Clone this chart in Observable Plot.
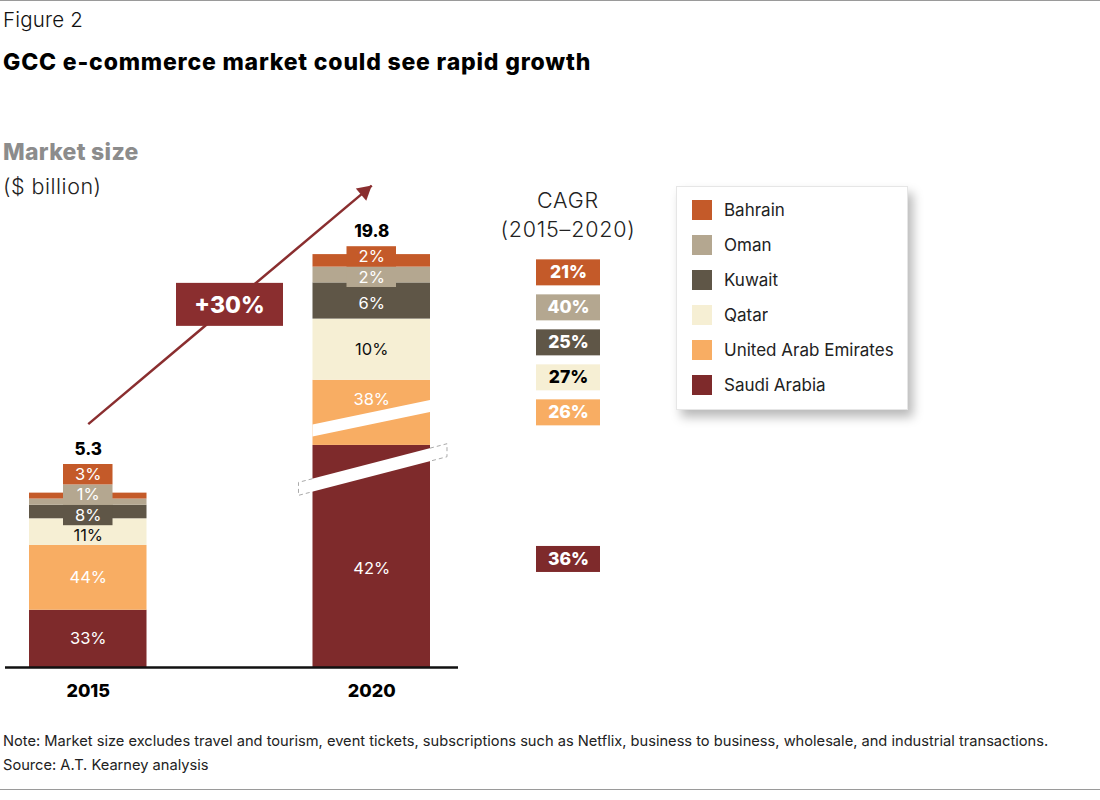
<!DOCTYPE html>
<html>
<head>
<meta charset="utf-8">
<script src="https://cdn.jsdelivr.net/npm/d3@7"></script>
<script src="https://cdn.jsdelivr.net/npm/@observablehq/plot@0.6"></script>
<style>
  body { margin: 0; background: #fff; font-family: Inter, "Noto Sans", sans-serif; color: #111; }
  #chart { position: relative; width: 1100px; height: 800px; overflow: hidden; background: #fff; }
  .abs { position: absolute; white-space: nowrap; }
  .rule { position: absolute; left: 0; width: 1100px; height: 1px; background: #9a9a9a; }
  #fig { left: 3px; top: 7px; font-size: 20.5px; line-height: 26px; color: #111; font-weight: 300; letter-spacing: 0.2px; }
  #title { left: 3px; top: 49px; font-size: 23px; line-height: 26px; font-weight: 800; color: #000; letter-spacing: 0.82px; }
  #msize { left: 3px; top: 139px; font-size: 23px; line-height: 26px; font-weight: 800; color: #8c8c8c; letter-spacing: 0.3px; }
  #unit { left: 3px; top: 173px; font-size: 21.5px; line-height: 26px; color: #222; font-weight: 300; letter-spacing: 0.5px; }
  #cagrhead { left: 468px; top: 186px; width: 200px; text-align: center; font-size: 21.5px; line-height: 29px; color: #222; font-weight: 300; letter-spacing: 0.8px; }
  #main { left: 0; top: 170px; }
  #cagr { left: 500px; top: 170px; }
  #legend { left: 676px; top: 186px; width: 232px; height: 224px; box-sizing: border-box; background: #fff;
            border: 1px solid #e6e6e6; box-shadow: 5px 7px 10px rgba(0,0,0,0.28); padding: 5px 0 0 15px; }
  .lg-swatches { margin: 0 !important; font-family: Inter, "Noto Sans", sans-serif !important; font-size: 17px !important; color: #222; }
  .lg-swatch { height: 35px !important; padding: 0 !important; margin: 0 !important; }
  .lg-swatch > svg { margin-right: 12px !important; }
  #note { left: 3px; top: 731px; font-size: 14.65px; line-height: 20px; color: #222; }
  #source { left: 3px; top: 755px; font-size: 14.65px; line-height: 20px; color: #222; }
  #main [aria-label^="x-axis"] text { font-weight: 800; font-size: 18px; fill: #000; }
</style>
</head>
<body>
<div id="chart">
  <div class="rule" style="top:0"></div>
  <div id="fig" class="abs">Figure 2</div>
  <div id="title" class="abs">GCC e-commerce market could see rapid growth</div>
  <div id="msize" class="abs">Market size</div>
  <div id="unit" class="abs">($ billion)</div>
  <div id="cagrhead" class="abs">CAGR<br>(2015–2020)</div>
  <div id="main" class="abs"></div>
  <div id="cagr" class="abs"></div>
  <div id="legend" class="abs"></div>
  <div id="note" class="abs">Note: Market size excludes travel and tourism, event tickets, subscriptions such as Netflix, business to business, wholesale, and industrial transactions.</div>
  <div id="source" class="abs">Source: A.T. Kearney analysis</div>
  <div class="rule" style="top:789px"></div>
</div>
<script>
// ---------------- data ----------------
const years = ["2015", "2020"];
// stacking order, bottom to top
const countries = ["Saudi Arabia", "United Arab Emirates", "Qatar", "Kuwait", "Oman", "Bahrain"];
const colors = ["#7e2a2b", "#f8ad63", "#f6efd4", "#5f5647", "#b4a790", "#c45a29"];
// segment sizes, $ billion
const values2015 = [1.74, 1.97, 0.81, 0.41, 0.19, 0.18];
const values2020 = [8.38, 7.60, 1.86, 1.10, 0.48, 0.38];
// printed share labels
const shares2015 = ["33%", "44%", "11%", "8%", "1%", "3%"];
const shares2020 = ["42%", "38%", "10%", "6%", "2%", "2%"];
const totals = [5.3, 19.8];
// CAGR 2015–2020, same order as countries
const cagr = ["36%", "26%", "27%", "25%", "40%", "21%"];
const growthLabel = "+30%";
// scale breaks drawn on the 2020 bar ($ billion ranges that are cut out)
const breakYear = "2020";
const yBreaks = [[5.99, 7.62], [9.19, 14.81]];

// ---------------- styles / layout constants ----------------
const ACCENT = "#8a2e2f";
const FONT = "Inter, 'Noto Sans', sans-serif";
const K = 32.9;            // px per $ billion
const BASE = 497;          // baseline inside the svg
const W = 465, H = 540;
const SMALL = 0.6;         // segments smaller than this get a call-out box
const BOX = 0.62;          // call-out box height ($B units)
const ARROW_LIFT = 69;     // px above the totals
const breakStyle = [
  {t: 13, slope: -0.26, extL: 14, extR: 17, dashed: true},
  {t: 12, slope: -0.21, extL: 0, extR: 0, dashed: false}
];

// ---------------- tables ----------------
const rows = [];
years.forEach((yr, j) => {
  const vals = j ? values2020 : values2015;
  const sh = j ? shares2020 : shares2015;
  let cum = 0;
  countries.forEach((c, i) => {
    rows.push({year: yr, country: c, value: vals[i], share: sh[i], lo: cum, hi: cum + vals[i]});
    cum += vals[i];
  });
});

// broken (piecewise) y scale
const yDomain = [0, ...yBreaks.flat(), d3.max(totals)];
const collapsed = v => d3.sum(yBreaks, ([s, e]) => Math.max(0, Math.min(v, e) - s));
const yRange = yDomain.map(v => BASE - K * (v - collapsed(v)));
const yOpts = {type: "linear", domain: yDomain, range: yRange};
const xOpts = {type: "band", domain: years, range: [0, 459], paddingInner: 0.5855, paddingOuter: 0.1023, align: 0.5, round: false};
const xs = Plot.scale({x: xOpts});
const ys = Plot.scale({y: yOpts});
const bw = xs.bandwidth;

function visiblePieces(lo, hi, yr, boxBottom) {
  let pieces = [[lo, hi]];
  const cuts = yr === breakYear ? yBreaks.slice() : [];
  if (boxBottom != null) cuts.push([boxBottom, Infinity]);
  for (const [s, e] of cuts) {
    pieces = pieces.flatMap(([a, b]) => {
      const out = [];
      if (a < s) out.push([a, Math.min(b, s)]);
      if (b > e) out.push([Math.max(a, e), b]);
      return out;
    });
  }
  return pieces;
}

const boxes = [], segLabels = [], totalRows = [];
years.forEach((yr, j) => {
  const rs = rows.filter(r => r.year === yr);
  const small = rs.filter(r => r.value < SMALL);
  const anchor = small.length ? small[0].hi : rs[rs.length - 1].hi;
  const boxBottom = small.length ? anchor - BOX : null;
  small.forEach((r, level) => boxes.push({...r, level, y1: anchor - BOX, y2: anchor}));
  rs.filter(r => r.value >= SMALL).forEach(r => {
    const p = d3.greatest(visiblePieces(r.lo, r.hi, yr, boxBottom), ([a, b]) => b - a);
    segLabels.push({...r, y: (p[0] + p[1]) / 2});
  });
  totalRows.push({year: yr, total: totals[j], anchor, levels: small.length});
});

const dark = d => d.country === "Qatar";

// ---------------- marks ----------------
const marks = [];
marks.push(Plot.barY(rows, {x: "year", y: "value", fill: "country"}));

// break bands
marks.push(() => {
  const g = d3.create("svg:g");
  const x0 = xs.apply(breakYear), x1 = x0 + bw, xc = (x0 + x1) / 2;
  yBreaks.forEach(([s], i) => {
    const st = breakStyle[i];
    const py = ys.apply(s);
    const L = x0 - st.extL, R = x1 + st.extR;
    const top = x => py + st.slope * (x - xc) - st.t / 2;
    const bot = x => py + st.slope * (x - xc) + st.t / 2;
    g.append("polygon")
      .attr("points", [[L, top(L)], [R, top(R)], [R, bot(R)], [L, bot(L)]].join(" "))
      .attr("fill", "#fff");
    if (st.dashed) {
      const path = `M${x0},${top(x0)}L${L},${top(L)}L${L},${bot(L)}L${x0},${bot(x0)}` +
                   `M${x1},${top(x1)}L${R},${top(R)}L${R},${bot(R)}L${x1},${bot(x1)}`;
      g.append("path").attr("d", path).attr("fill", "none")
        .attr("stroke", "#aaa").attr("stroke-width", 1).attr("stroke-dasharray", "4,3");
    }
  });
  return g.node();
});

// call-out boxes for small segments
const nLevels = d3.max(boxes, d => d.level) + 1;
for (let L = 0; L < nLevels; L++) {
  const data = boxes.filter(b => b.level === L);
  const dy = -L * BOX * K;
  marks.push(Plot.barY(data, {x: "year", y1: "y1", y2: "y2", fill: "country", insetLeft: 34, insetRight: 34, dy}));
  marks.push(Plot.text(data.filter(d => !dark(d)), {x: "year", y: d => (d.y1 + d.y2) / 2, text: "share", fill: "#fff", fontSize: 16.5, dy}));
  marks.push(Plot.text(data.filter(dark), {x: "year", y: d => (d.y1 + d.y2) / 2, text: "share", fill: "#111", fontSize: 16.5, dy}));
}
// labels inside larger segments
marks.push(Plot.text(segLabels.filter(d => !dark(d)), {x: "year", y: "y", text: "share", fill: "#fff", fontSize: 16.5}));
marks.push(Plot.text(segLabels.filter(dark), {x: "year", y: "y", text: "share", fill: "#111", fontSize: 16.5}));

// totals
totalRows.forEach(t => {
  marks.push(Plot.text([t], {x: "year", y: "anchor", text: d => d.total.toFixed(1), lineAnchor: "bottom",
    fontWeight: 800, fontSize: 17, fill: "#000", dy: -(Math.max(t.levels - 1, 0) * BOX * K) - 10}));
});

// baseline
marks.push(Plot.ruleY([0], {stroke: "#111", strokeWidth: 2.5}));

// growth arrow
const arrow = [{x1: years[0], y1: totals[0], x2: years[1], y2: totals[1]}];
const pdx = xs.apply(years[1]) - xs.apply(years[0]);
const pdy = ys.apply(totals[1]) - ys.apply(totals[0]);
const ang = Math.atan2(pdy, pdx);
const headR = 6;
const tipOff = 2 * Math.sqrt(headR * headR * Math.PI / (3 * Math.sqrt(3)));
marks.push(Plot.link(arrow, {x1: "x1", y1: "y1", x2: "x2", y2: "y2", stroke: ACCENT, strokeWidth: 2.5, dy: -ARROW_LIFT}));
marks.push(Plot.dot(arrow, {x: "x2", y: "y2", symbol: "triangle", r: headR, fill: ACCENT, stroke: "none",
  rotate: ang * 180 / Math.PI + 90, dx: -tipOff * Math.cos(ang), dy: -ARROW_LIFT - tipOff * Math.sin(ang)}));
// growth badge at the arrow's midpoint
marks.push(() => {
  const ax1 = xs.apply(years[0]) + bw / 2, ax2 = xs.apply(years[1]) + bw / 2;
  const ay1 = ys.apply(totals[0]) - ARROW_LIFT, ay2 = ys.apply(totals[1]) - ARROW_LIFT;
  const cx = (ax1 + ax2) / 2, cy = (ay1 + ay2) / 2;
  const g = d3.create("svg:g");
  g.append("rect").attr("x", cx - 53.5).attr("y", cy - 21.5).attr("width", 107).attr("height", 43).attr("fill", ACCENT);
  g.append("text").attr("x", cx).attr("y", cy).attr("dy", "0.36em").attr("text-anchor", "middle")
    .attr("fill", "#fff").attr("font-size", 23).attr("font-weight", 800).text(growthLabel);
  return g.node();
});

const main = Plot.plot({
  width: W, height: H,
  marginLeft: 5, marginRight: 7, marginTop: 0, marginBottom: H - BASE,
  style: {fontFamily: FONT, fontSize: "16px", background: "transparent", overflow: "visible", color: "#000"},
  x: {...xOpts, axis: "bottom", tickSize: 0, tickPadding: 17, label: null},
  y: {...yOpts, axis: null},
  color: {domain: countries, range: colors},
  marks
});
document.getElementById("main").append(main);

// ---------------- CAGR column ----------------
const r2020 = rows.filter(r => r.year === "2020");
const cagrRows = [];
const sa = r2020[0], uae = r2020[1];
const saY = (ys.apply(sa.lo) + ys.apply(sa.hi)) / 2 + 3;
const uaeY = (ys.apply(uae.lo) + ys.apply(uae.hi)) / 2;
countries.forEach((c, i) => {
  const py = i === 0 ? saY : uaeY - 35 * (i - 1);
  cagrRows.push({country: c, cagr: cagr[i], py});
});
const cagrPlot = Plot.plot({
  width: 136, height: H, margin: 0,
  style: {fontFamily: FONT, background: "transparent", overflow: "visible"},
  x: {type: "band", domain: ["CAGR"], range: [36, 100], padding: 0, axis: null},
  y: {type: "identity", axis: null},
  color: {domain: countries, range: colors},
  marks: [
    Plot.barY(cagrRows, {x: () => "CAGR", y1: d => d.py - 13, y2: d => d.py + 13, fill: "country"}),
    Plot.text(cagrRows.filter(d => !dark(d)), {x: () => "CAGR", y: "py", text: "cagr", fill: "#fff", fontWeight: 800, fontSize: 17.5}),
    Plot.text(cagrRows.filter(dark), {x: () => "CAGR", y: "py", text: "cagr", fill: "#000", fontWeight: 800, fontSize: 17.5})
  ]
});
document.getElementById("cagr").append(cagrPlot);

// ---------------- legend ----------------
const leg = Plot.legend({
  color: {domain: [...countries].reverse(), range: [...colors].reverse()},
  legend: "swatches", columns: 1, swatchSize: 20, className: "lg"
});
document.getElementById("legend").append(leg);
</script>
</body>
</html>
